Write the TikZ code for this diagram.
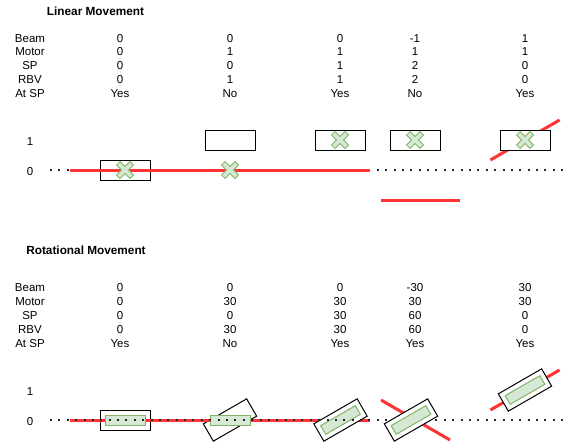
\documentclass[tikz,border=0pt]{standalone}
\usepackage{fontspec}
\setmainfont{Liberation Sans}

\definecolor{beamred}{HTML}{FF3333}
\definecolor{markfill}{HTML}{D5E8D4}
\definecolor{markline}{HTML}{82B366}

\tikzset{
	cell/.style={inner sep=0pt, text height=8.2pt, text depth=0pt, font=\fontsize{11.5}{13.8}\selectfont},
	heading/.style={cell, font=\fontsize{11.8}{14}\selectfont\bfseries},
	axisline/.style={line width=2.2pt, black!85, dash pattern=on 2pt off 6.38pt},
	beam/.style={line width=3pt, beamred},
	carriage/.style={draw, line width=1pt, minimum width=50pt, minimum height=20pt, inner sep=0pt},
	slot/.style={draw=markline, fill=markfill, line width=1pt, minimum width=40pt, minimum height=10pt, inner sep=0pt},
	pics/cross/.style={code={
		\draw[draw=markline, fill=markfill, line width=0.8pt, rotate=45]
			(9.5,2.5) -- (2.5,2.5) -- (2.5,9.5) -- (-2.5,9.5) -- (-2.5,2.5) -- (-9.5,2.5)
			-- (-9.5,-2.5) -- (-2.5,-2.5) -- (-2.5,-9.5) -- (2.5,-9.5) -- (2.5,-2.5) -- (9.5,-2.5) -- cycle;
	}}
}

\begin{document}
\begin{tikzpicture}[x=1pt, y=-1pt]
	\useasboundingbox (0,0) rectangle (573,444);

	% linear movement
	\node[heading] (lintitle) at (95.5,11) {Linear Movement};
	\foreach \lbl [count=\r] in {Beam, Motor, SP, RBV, At SP}
		\node[cell] (linlbl\r) at (30,{24.2+13.75*\r}) {\lbl};
	\foreach \x/\vals [count=\c] in {120/{0,0,0,0,Yes}, 230/{0,1,0,1,No}, 340/{0,1,1,1,Yes}, 415/{-1,1,2,2,No}, 525/{1,1,0,0,Yes}}
		\foreach \v [count=\r] in \vals
			\node[cell] (lin\c-\r) at (\x,{24.2+13.75*\r}) {\v};

	\node[cell] (linone) at (30,141) {1};
	\node[cell] (linzero) at (30,171) {0};
	\draw[axisline] (50,170) -- (565,170);
	\node[carriage] (lincar1) at (125,170) {};
	\draw[beam] (70,170) -- (370,170);
	\pic at (125,170) {cross};
	\pic at (230,170) {cross};
	\node[carriage] (lincar2) at (230,140) {};
	\node[carriage] (lincar3) at (340,140) {};
	\pic at (340,140) {cross};
	\node[carriage] (lincar4) at (415,140) {};
	\pic at (415,140) {cross};
	\draw[beam] (381,200) -- (460,200);
	\draw[beam] (490.4,160) -- (559.6,120);
	\node[carriage, fill=white] (lincar5) at (525,140) {};
	\pic at (525,140) {cross};

	% rotational movement
	\node[heading] (rottitle) at (86,250) {Rotational Movement};
	\foreach \lbl [count=\r] in {Beam, Motor, SP, RBV, At SP}
		\node[cell] (rotlbl\r) at (30,{273+14*\r}) {\lbl};
	\foreach \x/\vals [count=\c] in {120/{0,0,0,0,Yes}, 230/{0,30,0,30,No}, 340/{0,30,30,30,Yes}, 415/{-30,30,60,60,Yes}, 525/{30,30,0,0,Yes}}
		\foreach \v [count=\r] in \vals
			\node[cell] (rot\c-\r) at (\x,{273+14*\r}) {\v};

	\node[cell] (rotone) at (30,391) {1};
	\node[cell] (rotzero) at (30,421) {0};
	\node[carriage] (rotcar1) at (125,420) {};
	\node[carriage, rotate=30] (rotcar2) at (230,420) {};
	\draw[beam] (70,420) -- (370,420);
	\node[slot] (rotslot1) at (125,420) {};
	\node[slot] (rotslot2) at (230,420) {};
	\node[carriage, fill=white, rotate=30] (rotcar3) at (340.5,420) {};
	\node[slot, rotate=30] (rotslot3) at (340.5,420) {};
	\draw[axisline] (50,420) -- (565,420);
	\draw[beam] (381,400) -- (450,440);
	\node[carriage, fill=white, rotate=30] (rotcar4) at (411,420) {};
	\node[slot, rotate=30] (rotslot4) at (411,420) {};
	\draw[beam] (490.4,410) -- (559.6,370);
	\node[carriage, fill=white, rotate=30] (rotcar5) at (525,390) {};
	\node[slot, rotate=30] (rotslot5) at (525,390) {};
\end{tikzpicture}
\end{document}
